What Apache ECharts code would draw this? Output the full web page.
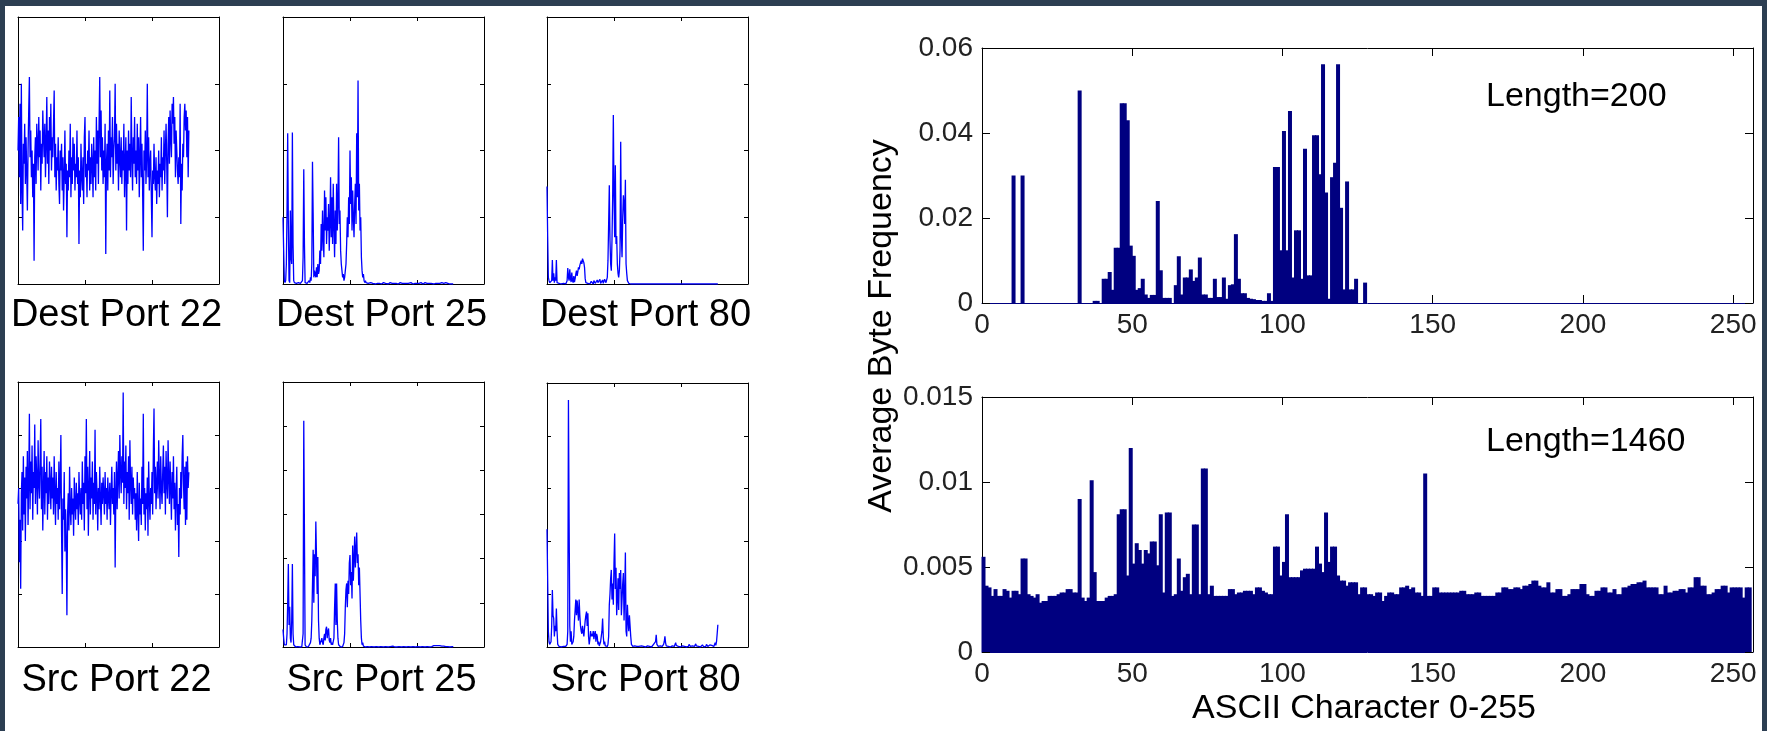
<!DOCTYPE html>
<html lang="en">
<head>
<meta charset="UTF-8">
<title>Byte frequency by port</title>
<style>
    html, body { margin: 0; padding: 0; background: #fff; }
    #main { width: 1767px; height: 731px; }
</style>
</head>
<body>
<div id="main"></div>
<script src="https://cdn.jsdelivr.net/npm/echarts@6/dist/echarts.min.js"></script>
<script type="text/javascript">

    var portLabels = ['Dest Port 22', 'Dest Port 25', 'Dest Port 80', 'Src Port 22', 'Src Port 25', 'Src Port 80'];
    var lengthLabels = ['Length=200', 'Length=1460'];
    var yName = 'Average Byte Frequency';
    var xName = 'ASCII Character 0-255';

    // small panels, byte index 0..255, heights in tick-interval units
    var dest22 = [
        2.0, 2.5, 1.6, 2.7, 1.2, 3.0, 1.4, 0.8, 2.1, 1.8, 2.4, 1.5, 2.2, 1.7, 1.1, 2.0,
        2.6, 3.1, 1.9, 2.3, 1.6, 2.0, 1.3, 1.8, 0.35, 1.9, 2.2, 1.5, 2.4, 2.1, 1.7, 2.5,
        1.9, 2.3, 1.4, 2.1, 1.8, 2.6, 2.2, 1.9, 2.4, 1.6, 2.1, 2.8, 1.8, 2.3, 1.5, 2.5,
        2.0, 2.7, 1.7, 2.2, 1.9, 2.4, 2.9, 1.6, 2.1, 1.4, 1.9, 1.7, 2.2, 1.5, 1.2, 2.0,
        1.7, 2.1, 1.4, 1.9, 1.1, 1.6, 2.3, 1.5, 1.8, 0.7, 1.7, 1.4, 2.0, 1.6, 2.4, 1.3,
        1.9, 1.5, 2.2, 1.7, 2.1, 1.4, 1.8, 1.6, 2.3, 1.5, 1.9, 0.6, 1.7, 1.3, 2.1, 1.6,
        1.4, 1.9, 1.2, 2.2, 2.5, 1.6, 1.8, 1.3, 2.0, 1.7, 2.3, 1.4, 1.9, 1.5, 2.1, 1.8,
        1.3, 2.2, 1.6, 2.0, 1.4, 2.5, 1.8, 2.3, 1.5, 2.4, 3.1, 1.9, 2.6, 1.7, 2.2, 1.5,
        2.0, 1.6, 2.4, 0.45, 1.8, 2.1, 1.4, 2.3, 1.7, 2.9, 1.6, 2.2, 1.9, 2.5, 1.5, 2.0,
        2.2, 3.0, 1.7, 2.4, 1.8, 2.1, 1.4, 2.3, 1.9, 1.6, 2.2, 1.5, 2.0, 1.7, 2.4, 1.3,
        1.8, 2.2, 0.8, 2.0, 1.5, 2.3, 1.7, 2.1, 1.6, 2.8, 1.9, 1.4, 2.2, 1.8, 2.5, 1.6,
        2.0, 1.5, 2.4, 1.7, 2.2, 1.3, 1.9, 2.5, 1.6, 2.1, 1.4, 0.5, 2.0, 1.7, 2.3, 1.5,
        1.9, 3.0, 1.6, 2.2, 1.4, 1.8, 2.0, 1.3, 0.7, 1.7, 1.5, 2.1, 1.6, 1.4, 1.9, 1.2,
        1.7, 1.5, 2.0, 1.3, 1.8, 1.6, 2.2, 1.4, 1.9, 1.7, 2.3, 1.5, 2.0, 2.4, 1.8, 1.0,
        2.1, 2.5, 1.8, 2.6, 2.2, 1.9, 2.7, 2.4, 2.8, 2.1, 2.5, 1.6, 2.3, 2.0, 1.7, 1.5,
        1.9, 1.6, 2.7, 0.9, 1.8, 1.4, 2.1, 1.9, 2.5, 2.7, 2.3, 2.6, 1.9, 2.5, 1.6, 2.3
    ];
    var dest25 = [
        1.0, 0.5, 0.05, 0.02, 0.05, 0.3, 1.1, 2.26, 0.9, 0.05, 0.02, 1.1, 0.4, 0.3, 2.27, 0.6,
        0.05, 0.02, 0.01, 0.02, 0.01, 0, 0.01, 0.02, 0.01, 0, 0.01, 0.02, 0.01, 0.05, 0.4, 1.72,
        0.6, 0.02, 0.01, 0, 0.01, 0.02, 0.01, 0.05, 0.02, 0.1, 0.05, 0.3, 1.83, 1.06, 0.1, 0.2,
        0.15, 0.1, 0.25, 0.1, 0.3, 0.15, 0.2, 0.5, 0.3, 0.9, 0.5, 1.1, 0.7, 0.4, 1.4, 0.8,
        1.3, 0.6, 1.0, 0.8, 1.2, 0.5, 0.9, 1.6, 0.7, 1.3, 0.6, 1.5, 0.9, 0.4, 1.1, 0.6,
        1.5, 0.8, 1.2, 2.2, 0.9, 1.1, 0.5, 0.3, 0.2, 0.1, 0.15, 0.05, 0.1, 0.2, 0.3, 0.6,
        1.0, 0.7, 1.3, 0.9, 2.0, 1.2, 1.6, 0.8, 1.4, 1.0, 0.7, 1.2, 1.5, 0.9, 2.26, 1.3,
        3.05, 1.1, 1.5, 0.8, 1.0, 0.4, 0.2, 0.1, 0.15, 0.05, 0.02, 0.05, 0.02, 0.01, 0.02, 0.01,
        0.02, 0.01, 0.01, 0.02, 0.01, 0, 0.01, 0.02, 0.01, 0.01, 0, 0.01, 0.02, 0.01, 0.01, 0,
        0.01, 0.02, 0.01, 0, 0.01, 0.01, 0.02, 0.01, 0, 0.01, 0.02, 0.01, 0.01, 0, 0.01, 0.01,
        0.02, 0.01, 0, 0.01, 0.01, 0.02, 0.01, 0.01, 0, 0.01, 0.02, 0.01, 0, 0.01, 0.01, 0.02,
        0.01, 0, 0.01, 0.01, 0.02, 0.01, 0.01, 0, 0.01, 0.01, 0.02, 0.01, 0, 0.01, 0.01, 0.02,
        0.01, 0.01, 0, 0.01, 0.02, 0.01, 0.01, 0, 0.01, 0.01, 0.02, 0.01, 0, 0.01, 0.02, 0.01,
        0.01, 0, 0.01, 0.01, 0.02, 0.01, 0, 0.01, 0.01, 0.02, 0.01, 0.01, 0, 0.01, 0.02, 0.01,
        0.01, 0, 0.01, 0.02, 0.01, 0.01, 0, 0.01, 0.01, 0.02, 0.01, 0, 0.01, 0.02, 0.03, 0.02,
        0.01, 0.02, 0.03, 0.02, 0.01, 0, 0.01, 0.02, 0.01, 0, 0.01, 0.01, 0, 0, 0, 0
    ];
    var dest80 = [
        1.46, 0.71, 0.1, 0.05, 0.02, 0.01, 0.03, 0.05, 0.36, 0.05, 0.16, 0.02, 0.1, 0.05, 0.36, 0.02,
        0.01, 0, 0.01, 0, 0.01, 0, 0.01, 0, 0, 0.01, 0, 0.01, 0, 0.02, 0.05, 0.24,
        0.1, 0.05, 0.22, 0.08, 0.03, 0.17, 0.05, 0.02, 0.12, 0.03, 0.08, 0.15, 0.2, 0.12, 0.18, 0.25,
        0.22, 0.28, 0.3, 0.35, 0.3, 0.38, 0.4, 0.32, 0.25, 0.08, 0.02, 0.01, 0, 0.01, 0, 0.01,
        0, 0, 0.04, 0.06, 0.02, 0, 0.05, 0.07, 0.01, 0, 0.03, 0.06, 0.02, 0, 0.04, 0.07,
        0.01, 0, 0.03, 0.06, 0.01, 0.02, 0.07, 0.05, 0.02, 0.04, 0.1, 0.35, 0.9, 1.48, 0.66, 0.3,
        0.2, 0.66, 1.3, 2.53, 1.31, 0.7, 1.78, 0.6, 0.72, 0.3, 0.16, 0.1, 0.2, 0.5, 2.13, 0.72,
        0.4, 1.0, 1.33, 1.2, 0.9, 1.56, 0.3, 0.16, 0.05, 0.03, 0.01, 0, 0, 0, 0, 0,
        0, 0, 0, 0, 0, 0, 0, 0, 0, 0, 0, 0, 0, 0, 0, 0,
        0, 0, 0, 0, 0, 0, 0, 0, 0, 0, 0, 0, 0, 0, 0, 0,
        0, 0, 0, 0, 0, 0, 0, 0, 0, 0, 0, 0, 0, 0, 0, 0,
        0, 0, 0, 0, 0, 0, 0, 0, 0, 0, 0, 0, 0, 0, 0, 0,
        0, 0, 0, 0, 0, 0, 0, 0, 0, 0, 0, 0, 0, 0, 0, 0,
        0, 0, 0, 0, 0, 0, 0, 0, 0, 0, 0, 0, 0, 0, 0, 0,
        0, 0, 0, 0, 0, 0, 0, 0, 0, 0, 0, 0, 0, 0, 0, 0,
        0, 0, 0, 0, 0, 0, 0, 0, 0, 0, 0, 0, 0, 0, 0, 0
    ];
    var src22 = [
        2.7, 3.0, 1.6, 2.4, 1.1, 2.9, 3.3, 2.2, 3.6, 2.5, 3.2, 2.0, 3.4, 2.8, 3.7, 2.3,
        3.1, 4.4, 2.6, 3.5, 2.9, 3.8, 2.4, 3.3, 3.0, 4.2, 2.7, 3.6, 3.2, 2.5, 3.9, 3.1,
        2.8, 3.5, 4.3, 2.6, 3.4, 2.2, 3.0, 3.7, 2.5, 3.3, 2.9, 3.6, 2.4, 3.2, 2.7, 3.5,
        3.1, 2.6, 3.4, 2.8, 3.2, 2.5, 3.6, 2.9, 2.3, 3.3, 2.7, 3.0, 2.4, 3.5, 2.6, 3.1,
        4.0, 2.2, 1.0, 2.8, 2.4, 3.3, 1.8, 2.6, 2.0, 0.6, 2.5, 2.9, 2.2, 3.4, 2.6, 2.3,
        3.0, 2.5, 2.8, 2.1, 3.2, 2.7, 2.4, 3.1, 2.6, 2.9, 2.3, 3.3, 2.8, 2.5, 3.0, 2.4,
        3.5, 2.7, 3.1, 2.2, 3.6, 2.9, 4.3, 2.6, 3.4, 2.1, 3.0, 3.7, 2.5, 3.2, 2.8, 3.5,
        2.4, 3.1, 2.7, 4.1, 2.5, 3.3, 2.9, 2.2, 3.0, 2.6, 3.4, 2.8, 2.3, 3.1, 2.7, 3.2,
        2.9, 2.5, 3.3, 2.7, 3.0, 2.4, 3.2, 2.8, 2.6, 3.1, 2.3, 2.9, 3.4, 2.7, 3.0, 2.5,
        3.3, 1.5, 2.9, 3.5, 2.6, 3.2, 3.7, 2.8, 4.0, 3.3, 2.9, 3.6, 3.1, 4.8, 2.7, 3.5,
        3.0, 3.8, 2.6, 3.3, 2.9, 3.6, 2.4, 3.9, 3.1, 2.7, 3.4, 2.5, 3.2, 2.8, 3.0, 2.4,
        2.9, 2.2, 3.3, 2.6, 2.0, 3.1, 2.5, 2.8, 2.3, 3.4, 2.7, 4.4, 2.5, 3.0, 2.2, 2.9,
        2.6, 3.2, 2.1, 3.5, 2.8, 2.4, 3.0, 2.7, 3.3, 2.5, 3.7, 4.5, 2.9, 3.4, 2.6, 3.1,
        3.5, 2.8, 3.9, 3.2, 2.6, 3.6, 3.0, 2.7, 3.3, 3.8, 2.9, 3.4, 2.5, 3.7, 3.1, 2.8,
        3.9, 3.2, 2.7, 3.5, 3.0, 2.4, 3.3, 2.8, 3.6, 2.6, 3.1, 2.2, 2.9, 3.4, 2.3, 2.7,
        1.7, 3.0, 2.5, 3.3, 2.8, 3.6, 4.0, 3.1, 2.6, 3.4, 2.3, 3.5, 2.4, 3.6, 3.0, 3.3
    ];
    var src25 = [
        0.4, 0.2, 0.05, 0.02, 0.01, 0.05, 0.3, 1.0, 1.88, 0.5, 0.91, 0.2, 0.1, 0.6, 1.88, 0.3,
        0.05, 0.02, 0.01, 0, 0.01, 0, 0.01, 0, 0.01, 0, 0.01, 0.02, 0, 0.01, 0.3, 5.12,
        2.57, 0.05, 0.02, 0, 0.01, 0, 0.01, 0.02, 0.05, 0.1, 0.2, 0.6, 1.4, 2.2, 1.0, 2.1,
        1.6, 2.84, 2.04, 1.2, 2.04, 0.6, 0.2, 0.05, 0.1, 0.15, 0.2, 0.1, 0.05, 0.2, 0.3, 0.15,
        0.4, 0.46, 0.2, 0.35, 0.42, 0.15, 0.1, 0.2, 0.05, 0.1, 0.05, 0.02, 0.2, 0.9, 1.44, 0.5,
        1.44, 0.6, 0.2, 0.05, 0.02, 0.01, 0, 0.01, 0, 0.01, 0.05, 0.1, 0.3, 0.9, 1.3, 1.44,
        0.9, 1.5, 1.2, 1.9, 2.08, 1.4, 1.7, 1.1, 2.3, 1.5, 2.0, 2.5, 1.8, 2.2, 2.59, 1.9,
        2.1, 1.4, 1.8, 1.2, 0.6, 0.2, 0.05, 0.1, 0.02, 0.01, 0.01, 0, 0.01, 0, 0.01, 0,
        0.01, 0, 0.01, 0.02, 0.01, 0, 0.01, 0.01, 0, 0.01, 0.02, 0.01, 0, 0.01, 0.01, 0,
        0.01, 0.02, 0.01, 0, 0.01, 0.01, 0, 0.01, 0.02, 0.01, 0, 0.01, 0.01, 0, 0.01, 0.02,
        0.01, 0, 0.01, 0.01, 0.02, 0.03, 0.01, 0, 0.01, 0.01, 0, 0.01, 0.02, 0.01, 0, 0.01,
        0.01, 0, 0.01, 0.02, 0.01, 0, 0.01, 0.01, 0, 0.01, 0.02, 0.01, 0, 0.01, 0.01, 0,
        0.01, 0.02, 0.01, 0, 0.01, 0.01, 0, 0.01, 0.03, 0.01, 0, 0.01, 0.01, 0, 0.01, 0.02,
        0.01, 0, 0.01, 0.01, 0, 0.01, 0.02, 0.01, 0, 0.01, 0.01, 0, 0.01, 0.02, 0.01, 0,
        0.01, 0.03, 0.02, 0.01, 0.03, 0.02, 0.01, 0.03, 0.02, 0.01, 0.03, 0.02, 0.01, 0.02, 0.03, 0.01,
        0.02, 0.03, 0.02, 0.01, 0.03, 0.02, 0.01, 0, 0.01, 0, 0.01, 0, 0, 0.01, 0, 0
    ];
    var src80 = [
        2.23, 1.27, 0.3, 0.1, 0.05, 0.02, 0.1, 0.4, 1.08, 0.6, 0.54, 0.2, 0.4, 0.3, 0.73, 0.3,
        0.05, 0.02, 0.01, 0, 0.01, 0, 0.01, 0, 0, 0.01, 0, 0, 0.01, 0, 0.05, 0.3,
        4.68, 2.42, 0.4, 0.1, 0.3, 0.05, 0.02, 0.1, 0.2, 0.5, 0.7, 0.9, 0.6, 0.88, 0.9, 0.5,
        0.9, 0.6, 0.4, 0.3, 0.25, 0.4, 0.3, 0.2, 0.35, 0.5, 0.6, 0.67, 0.4, 0.64, 0.2, 0.05,
        0.15, 0.3, 0.2, 0.25, 0.2, 0.3, 0.15, 0.25, 0.3, 0.1, 0.25, 0.2, 0.05, 0.1, 0.02, 0.01,
        0.1, 0.2, 0.3, 0.54, 0.2, 0.05, 0.1, 0.02, 0.01, 0, 0.01, 0.05, 0.2, 0.8, 1.0, 1.3,
        1.46, 0.9, 1.2, 0.8, 1.6, 2.15, 1.1, 1.5, 0.6, 0.9, 1.3, 0.7, 1.4, 1.1, 1.46, 0.6,
        0.9, 1.2, 1.4, 0.5, 1.0, 1.79, 0.3, 0.2, 0.8, 0.5, 0.3, 0.6, 0.6, 0.2, 0.05, 0.02,
        0.01, 0, 0.01, 0.02, 0.01, 0, 0.01, 0.01, 0.02, 0.01, 0, 0.01, 0.01, 0.02, 0.01, 0,
        0.01, 0.02, 0.01, 0, 0.01, 0.01, 0.02, 0.01, 0, 0.01, 0.02, 0.01, 0, 0.01, 0.02, 0.05,
        0.02, 0.05, 0.1, 0.23, 0.05, 0.02, 0.01, 0, 0.01, 0.02, 0.01, 0, 0.01, 0.02, 0.05, 0.1,
        0.2, 0.08, 0.02, 0.01, 0, 0.01, 0.02, 0.01, 0, 0.01, 0.01, 0.02, 0.01, 0, 0.01, 0.03,
        0.08, 0.03, 0.01, 0, 0.01, 0.02, 0.01, 0, 0.01, 0.01, 0.02, 0.01, 0, 0.01, 0.02, 0.01,
        0, 0.01, 0.02, 0.01, 0.05, 0.02, 0.01, 0, 0.01, 0.02, 0.01, 0, 0.01, 0.03, 0.06, 0.02,
        0.01, 0, 0.01, 0.02, 0.01, 0, 0.01, 0.02, 0.04, 0.01, 0, 0.01, 0.02, 0.01, 0.05, 0.02,
        0.01, 0, 0.02, 0.04, 0.02, 0.01, 0.03, 0.05, 0.02, 0.01, 0.04, 0.08, 0.03, 0.1, 0.25, 0.42
    ];

    // average byte frequency for chars 0..255
    var len200 = [
        0, 0, 0, 0, 0, 0, 0, 0, 0, 0, 0.03, 0, 0, 0.03, 0, 0,
        0, 0, 0, 0, 0, 0, 0, 0, 0, 0, 0, 0, 0, 0, 0, 0,
        0.05, 0, 0, 0, 0, 0.0005, 0.0005, 0, 0.0057, 0.0057, 0.0073, 0.0031, 0.013, 0.013, 0.047, 0.047,
        0.043, 0.0135, 0.0111, 0.0031, 0.0035, 0.0057, 0.002, 0.0012, 0.0019, 0.0019, 0.024, 0.0077, 0.0012, 0.0012, 0.0012, 0,
        0.0042, 0.011, 0.002, 0.006, 0.006, 0.0079, 0.0052, 0.006, 0.0107, 0.002, 0.002, 0.0012, 0.0012, 0.0057, 0.0014, 0.0014,
        0.006, 0.001, 0.0042, 0.0044, 0.0162, 0.0057, 0.0023, 0.0023, 0.0012, 0.001, 0.0009, 0.0007, 0.0007, 0.0005, 0.0005, 0.0023,
        0.0005, 0.032, 0.032, 0.0124, 0.0405, 0.0124, 0.0452, 0.006, 0.0171, 0.0171, 0.0057, 0.0363, 0.0065, 0.0065, 0.0395, 0.0395,
        0.0303, 0.0562, 0.026, 0.001, 0.0296, 0.033, 0.0562, 0.0224, 0.0032, 0.0286, 0.0032, 0.0032, 0.0057, 0, 0, 0.0048,
        0, 0, 0, 0, 0, 0, 0, 0, 0, 0, 0, 0, 0, 0, 0, 0,
        0, 0, 0, 0, 0, 0, 0, 0, 0, 0, 0, 0, 0, 0, 0, 0,
        0, 0, 0, 0, 0, 0, 0, 0, 0, 0, 0, 0, 0, 0, 0, 0,
        0, 0, 0, 0, 0, 0, 0, 0, 0, 0, 0, 0, 0, 0, 0, 0,
        0, 0, 0, 0, 0, 0, 0, 0, 0, 0, 0, 0, 0, 0, 0, 0,
        0, 0, 0, 0, 0, 0, 0, 0, 0, 0, 0, 0, 0, 0, 0, 0,
        0, 0, 0, 0, 0, 0, 0, 0, 0, 0, 0, 0, 0, 0, 0, 0,
        0, 0, 0, 0, 0, 0, 0, 0, 0, 0, 0, 0, 0, 0, 0, 0
    ];
    var len1460 = [
        0.0056, 0.0039, 0.0038, 0.0033, 0.0037, 0.0033, 0.0033, 0.0037, 0.0036, 0.0032, 0.0036, 0.0036, 0.0034, 0.0055, 0.0055, 0.0034,
        0.0033, 0.0032, 0.0034, 0.0029, 0.003, 0.003, 0.0033, 0.0033, 0.0033, 0.0034, 0.0035, 0.0035, 0.0037, 0.0037, 0.0035, 0.0035,
        0.009, 0.0032, 0.003, 0.0032, 0.0101, 0.0047, 0.003, 0.003, 0.003, 0.0032, 0.0033, 0.0033, 0.0034, 0.0081, 0.0084, 0.0084,
        0.0045, 0.012, 0.0052, 0.0064, 0.006, 0.0052, 0.006, 0.0058, 0.0065, 0.0065, 0.0051, 0.0081, 0.0035, 0.0082, 0.0082, 0.0033,
        0.0034, 0.0055, 0.0036, 0.0044, 0.0046, 0.0034, 0.0075, 0.0075, 0.0034, 0.0108, 0.0108, 0.0034, 0.0039, 0.0033, 0.0033, 0.0033,
        0.0033, 0.0033, 0.0037, 0.0037, 0.0034, 0.0035, 0.0035, 0.0036, 0.0036, 0.0036, 0.0034, 0.0038, 0.0038, 0.0036, 0.0035, 0.0034,
        0.0034, 0.0062, 0.0062, 0.0045, 0.0053, 0.0081, 0.0044, 0.0044, 0.0044, 0.0044, 0.0048, 0.0049, 0.0049, 0.0049, 0.0049, 0.0062,
        0.0052, 0.0047, 0.0082, 0.0053, 0.0062, 0.0062, 0.0045, 0.0042, 0.0042, 0.0039, 0.0041, 0.0041, 0.0041, 0.0034, 0.0038, 0.0038,
        0.0034, 0.0034, 0.0033, 0.0035, 0.0035, 0.003, 0.0033, 0.0035, 0.0035, 0.0034, 0.0034, 0.0038, 0.0038, 0.0039, 0.0037, 0.0038,
        0.0035, 0.0035, 0.0033, 0.0105, 0.0033, 0.0033, 0.0038, 0.0038, 0.0035, 0.0035, 0.0035, 0.0035, 0.0035, 0.0035, 0.0035, 0.0036,
        0.0036, 0.0034, 0.0034, 0.0034, 0.0035, 0.0035, 0.0033, 0.0033, 0.0033, 0.0033, 0.0033, 0.0035, 0.0035, 0.0038, 0.0038, 0.0037,
        0.0037, 0.0038, 0.0038, 0.0037, 0.0039, 0.0039, 0.004, 0.0042, 0.0042, 0.0039, 0.0038, 0.0038, 0.0041, 0.0035, 0.0035, 0.0037,
        0.0037, 0.0033, 0.0033, 0.0034, 0.0037, 0.0037, 0.0037, 0.004, 0.004, 0.0034, 0.0033, 0.0033, 0.0036, 0.0036, 0.0038, 0.0038,
        0.0035, 0.0035, 0.0037, 0.0034, 0.0034, 0.0038, 0.0038, 0.0039, 0.004, 0.004, 0.0041, 0.0041, 0.0042, 0.0038, 0.0038, 0.0038,
        0.0038, 0.0034, 0.0034, 0.0039, 0.0035, 0.0035, 0.0036, 0.0036, 0.0037, 0.0037, 0.0035, 0.0038, 0.0038, 0.0044, 0.0044, 0.0039,
        0.0039, 0.0034, 0.0034, 0.0035, 0.0037, 0.0037, 0.0039, 0.0039, 0.0035, 0.0038, 0.0038, 0.0038, 0.0038, 0.0032, 0.0038, 0.0038
    ];

    var FONT = '"Liberation Sans", Arial, sans-serif';

    // small panels: left, top, width, height, y intervals
    var panels = [
        [18, 17, 201, 267, 4],
        [283, 17, 201, 267, 4],
        [547, 17, 201, 267, 4],
        [18, 382, 201, 265, 5],
        [283, 382, 201, 265, 6],
        [547, 383, 201, 264, 5]
    ];
    var portData = [dest22, dest25, dest80, src22, src25, src80];

    // big panels: left, top, width, height, y max, y interval
    var bigPanels = [
        [982, 48, 771, 255, 0.06, 0.02],
        [982, 397, 771, 255, 0.015, 0.005]
    ];
    var freqData = [len200, len1460];

    var grid = [], xAxis = [], yAxis = [], series = [], graphic = [];

    function addAxes(g, xmax, xint, ymax, yint, tickLen, labels, baseColor) {
        var tick = {show: true, inside: true, length: tickLen, lineStyle: {color: '#000', width: 1}};
        var line = function (c) {
            return {show: true, onZero: false, lineStyle: {color: c || '#000', width: 1}};
        };
        var lab = {show: false};
        xAxis.push({
            type: 'value', gridIndex: g, position: 'bottom', min: 0, max: xmax, interval: xint,
            axisLine: line(baseColor), axisTick: tick, splitLine: {show: false},
            axisLabel: labels ? {color: '#222', fontSize: 28, fontFamily: FONT, margin: 8, showMaxLabel: false} : lab
        });
        xAxis.push({
            type: 'value', gridIndex: g, position: 'top', min: 0, max: xmax, interval: xint,
            axisLine: line(), axisTick: tick, splitLine: {show: false}, axisLabel: lab
        });
        yAxis.push({
            type: 'value', gridIndex: g, position: 'left', min: 0, max: ymax, interval: yint,
            axisLine: line(), axisTick: tick, splitLine: {show: false},
            axisLabel: labels ? {color: '#222', fontSize: 28, fontFamily: FONT, margin: 9} : lab
        });
        yAxis.push({
            type: 'value', gridIndex: g, position: 'right', min: 0, max: ymax, interval: yint,
            axisLine: line(), axisTick: tick, splitLine: {show: false}, axisLabel: lab
        });
    }

    panels.forEach(function (p, k) {
        grid.push({left: p[0], top: p[1], width: p[2], height: p[3]});
        addAxes(k, 300, 100, p[4], 1, 4, false);
        series.push({
            type: 'line', xAxisIndex: 2 * k, yAxisIndex: 2 * k,
            showSymbol: false, animation: false,
            lineStyle: {color: '#0000ff', width: 1.3},
            data: portData[k].map(function (v, i) { return [i, v]; })
        });
        graphic.push({
            type: 'text', x: p[0] + p[2] / 2 - 2, y: p[1] + p[3] + (k < 3 ? 32 : 34),
            style: {text: portLabels[k], font: '38px ' + FONT, fill: '#000', align: 'center', verticalAlign: 'middle'}
        });
    });

    bigPanels.forEach(function (p, j) {
        var g = panels.length + j;
        grid.push({left: p[0], top: p[1], width: p[2], height: p[3]});
        addAxes(g, 256.6, 50, p[4], p[5], 8, true, '#000080');
        series.push({
            type: 'bar', xAxisIndex: 2 * g, yAxisIndex: 2 * g,
            barWidth: 4, animation: false,
            itemStyle: {color: '#000080'},
            data: freqData[j].map(function (v, c) { return [c + 0.5, v]; })
        });
        graphic.push({
            type: 'text', x: 1486, y: j === 0 ? 97 : 442,
            style: {text: lengthLabels[j], font: '34px ' + FONT, fill: '#000', align: 'left', verticalAlign: 'middle'}
        });
    });

    graphic.push({
        type: 'text', x: 882, y: 326, rotation: Math.PI / 2,
        style: {text: yName, font: '34px ' + FONT, fill: '#000', align: 'center', verticalAlign: 'middle'}
    });
    graphic.push({
        type: 'text', x: 1364, y: 709,
        style: {text: xName, font: '34px ' + FONT, fill: '#000', align: 'center', verticalAlign: 'middle'}
    });
    // dark frame
    graphic.push({type: 'rect', shape: {x: 0, y: 0, width: 5, height: 731}, style: {fill: '#2c3e52'}});
    graphic.push({type: 'rect', shape: {x: 0, y: 0, width: 1767, height: 6}, style: {fill: '#2c3e52'}});
    graphic.push({type: 'rect', shape: {x: 1762, y: 0, width: 5, height: 731}, style: {fill: '#2c3e52'}});

    var option = {
        backgroundColor: '#fff',
        animation: false,
        grid: grid,
        xAxis: xAxis,
        yAxis: yAxis,
        series: series,
        graphic: graphic
    };

    var myChart = echarts.init(document.getElementById('main'));
    myChart.setOption(option);
</script>
</body>
</html>
